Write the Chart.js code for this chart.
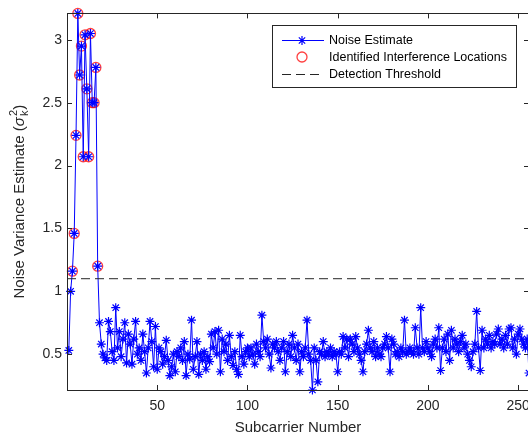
<!DOCTYPE html>
<html>
<head>
<meta charset="utf-8">
<script src="https://cdn.jsdelivr.net/npm/chart.js@4.4.1/dist/chart.umd.min.js"></script>
<style>
  html, body { margin: 0; padding: 0; background: #fff; overflow: hidden; }
  #wrap { position: relative; width: 540px; height: 438px; }
</style>
</head>
<body>
<div id="wrap"><canvas id="c"></canvas></div>
<script>
"use strict";

/*global Chart*/

// noise variance estimate per subcarrier (1..256)
var noiseEstimate = [
    0.53, 1.00, 1.16, 1.46, 2.24, 3.21, 2.72, 2.95, 2.07, 3.04, 2.61, 2.07, 3.05, 2.50, 2.50, 2.78,
    1.20, 0.75, 0.58, 0.50, 0.47, 0.45, 0.76, 0.68, 0.52, 0.45, 0.87, 0.55, 0.68, 0.48, 0.62, 0.75,
    0.43, 0.66, 0.58, 0.42, 0.62, 0.76, 0.50, 0.55, 0.45, 0.66, 0.52, 0.35, 0.55, 0.76, 0.60, 0.40,
    0.72, 0.38, 0.55, 0.52, 0.42, 0.48, 0.61, 0.45, 0.33, 0.40, 0.50, 0.36, 0.52, 0.48, 0.55, 0.45,
    0.60, 0.33, 0.50, 0.46, 0.77, 0.38, 0.48, 0.60, 0.34, 0.50, 0.45, 0.52, 0.38, 0.48, 0.44, 0.66,
    0.55, 0.68, 0.50, 0.69, 0.36, 0.62, 0.52, 0.58, 0.45, 0.65, 0.48, 0.41, 0.52, 0.38, 0.34, 0.65,
    0.48, 0.42, 0.52, 0.55, 0.48, 0.55, 0.50, 0.42, 0.58, 0.52, 0.48, 0.81, 0.60, 0.55, 0.62, 0.50,
    0.39, 0.58, 0.55, 0.60, 0.52, 0.45, 0.55, 0.60, 0.36, 0.52, 0.58, 0.48, 0.65, 0.55, 0.45, 0.58,
    0.36, 0.52, 0.48, 0.55, 0.77, 0.50, 0.45, 0.215, 0.55, 0.45, 0.28, 0.52, 0.50, 0.60, 0.48, 0.52,
    0.50, 0.55, 0.48, 0.52, 0.50, 0.36, 0.52, 0.50, 0.64, 0.55, 0.62, 0.48, 0.62, 0.58, 0.52, 0.64,
    0.55, 0.50, 0.45, 0.36, 0.52, 0.58, 0.69, 0.55, 0.52, 0.60, 0.48, 0.55, 0.50, 0.48, 0.55, 0.58,
    0.64, 0.55, 0.36, 0.62, 0.58, 0.50, 0.52, 0.48, 0.55, 0.52, 0.77, 0.50, 0.52, 0.55, 0.52, 0.50,
    0.71, 0.55, 0.50, 0.87, 0.55, 0.52, 0.60, 0.55, 0.52, 0.48, 0.58, 0.62, 0.55, 0.71, 0.37, 0.55,
    0.62, 0.52, 0.66, 0.45, 0.69, 0.55, 0.62, 0.58, 0.52, 0.60, 0.65, 0.55, 0.58, 0.50, 0.45, 0.40,
    0.52, 0.58, 0.84, 0.55, 0.37, 0.69, 0.55, 0.62, 0.58, 0.65, 0.55, 0.60, 0.58, 0.66, 0.70, 0.58,
    0.62, 0.55, 0.65, 0.58, 0.70, 0.71, 0.55, 0.62, 0.50, 0.66, 0.70, 0.62, 0.58, 0.55, 0.62, 0.35
];

// subcarriers flagged as interference (1-based)
var interferenceIdx = [3, 4, 5, 6, 7, 8, 9, 10, 11, 12, 13, 14, 15, 16, 17];

var detectionThreshold = 1.1;

var xRange = [0, 256];
var yRange = [0.215, 3.21];
var xTicks = [50, 100, 150, 200, 250];
var yTicks = [0.5, 1, 1.5, 2, 2.5, 3];

var seriesLabels = ['Noise Estimate', 'Identified Interference Locations', 'Detection Threshold'];

var AXIS = '#262626',
    FONT = '"Liberation Sans", Arial, Helvetica, sans-serif';

var noisePoints = noiseEstimate.map(function (v, i) {
    return {x: i + 1, y: v};
});
var interferencePoints = interferenceIdx.map(function (k) {
    return {x: k, y: noiseEstimate[k - 1]};
});
var thresholdPoints = xRange.map(function (x) {
    return {x: x, y: detectionThreshold};
});

// box + inward ticks, matlab style
var axesBox = {
    id: 'axesBox',
    afterDatasetsDraw: function (chart) {
        var ctx = chart.ctx,
            a = chart.chartArea,
            sx = chart.scales.x,
            sy = chart.scales.y,
            len = 5;
        ctx.save();
        ctx.strokeStyle = AXIS;
        ctx.lineWidth = 1;
        ctx.beginPath();
        xTicks.forEach(function (v) {
            var px = Math.round(sx.getPixelForValue(v)) + 0.5;
            ctx.moveTo(px, a.bottom);
            ctx.lineTo(px, a.bottom - len);
            ctx.moveTo(px, a.top);
            ctx.lineTo(px, a.top + len);
        });
        yTicks.forEach(function (v) {
            var py = Math.round(sy.getPixelForValue(v)) + 0.5;
            ctx.moveTo(a.left, py);
            ctx.lineTo(a.left + len, py);
            ctx.moveTo(a.right, py);
            ctx.lineTo(a.right - len, py);
        });
        ctx.stroke();
        ctx.strokeRect(Math.round(a.left) + 0.5, Math.round(a.top) + 0.5,
            Math.round(a.right - a.left), Math.round(a.bottom - a.top));
        ctx.restore();
    },
    afterDraw: function (chart) {
        var ctx = chart.ctx,
            a = chart.chartArea;
        // y axis title with sigma_k^2
        ctx.save();
        ctx.fillStyle = AXIS;
        ctx.textBaseline = 'middle';
        ctx.translate(20, (a.top + a.bottom) / 2);
        ctx.rotate(-Math.PI / 2);
        var main = 'Noise Variance Estimate (',
            fBig = '15px ' + FONT,
            fSmall = '11px ' + FONT;
        ctx.font = fBig;
        var w1 = ctx.measureText(main).width,
            wSig = ctx.measureText('\u03c3').width,
            wClose = ctx.measureText(')').width;
        ctx.font = fSmall;
        var wSup = Math.max(ctx.measureText('2').width, ctx.measureText('k').width) + 1;
        var x0 = -(w1 + wSig + wSup + wClose) / 2;
        ctx.font = fBig;
        ctx.textAlign = 'left';
        ctx.fillText(main, x0, 0);
        ctx.font = 'italic 15px ' + FONT;
        ctx.fillText('\u03c3', x0 + w1, 0);
        ctx.font = fSmall;
        ctx.fillText('2', x0 + w1 + wSig + 1, -6);
        ctx.fillText('k', x0 + w1 + wSig + 1, 5);
        ctx.font = fBig;
        ctx.fillText(')', x0 + w1 + wSig + wSup, 0);
        ctx.restore();

        // legend
        var lx = 272, ly = 25, lw = 244, lh = 62,
            rows = [40, 57, 74],
            sx0 = 282, sx1 = 324, mx = 302, tx = 329;
        ctx.save();
        ctx.fillStyle = '#fff';
        ctx.fillRect(lx, ly, lw, lh);
        ctx.strokeStyle = AXIS;
        ctx.lineWidth = 1;
        ctx.strokeRect(lx + 0.5, ly + 0.5, lw, lh);

        ctx.strokeStyle = '#0000ff';
        ctx.beginPath();
        ctx.moveTo(sx0, rows[0] + 0.5);
        ctx.lineTo(sx1, rows[0] + 0.5);
        ctx.stroke();
        ctx.lineWidth = 1.2;
        Chart.helpers.drawPoint(ctx, {pointStyle: 'star', radius: 4.5, borderWidth: 1.2, rotation: 0},
            mx, rows[0] + 0.5);

        ctx.strokeStyle = 'rgba(255,0,0,0.75)';
        ctx.lineWidth = 1.3;
        ctx.beginPath();
        ctx.arc(mx, rows[1], 5, 0, Math.PI * 2);
        ctx.stroke();

        ctx.strokeStyle = AXIS;
        ctx.lineWidth = 1;
        ctx.setLineDash([9, 5]);
        ctx.beginPath();
        ctx.moveTo(sx0, rows[2] + 0.5);
        ctx.lineTo(sx1, rows[2] + 0.5);
        ctx.stroke();
        ctx.setLineDash([]);

        ctx.fillStyle = '#000';
        ctx.font = '12.5px ' + FONT;
        ctx.textBaseline = 'middle';
        ctx.textAlign = 'left';
        seriesLabels.forEach(function (t, i) {
            ctx.fillText(t, tx, rows[i] + 1);
        });
        ctx.restore();
    }
};

new Chart(document.getElementById('c'), {
    type: 'line',
    data: {
        datasets: [{
            label: seriesLabels[1],
            data: interferencePoints,
            showLine: false,
            pointStyle: 'circle',
            pointRadius: 5,
            pointBorderWidth: 1.3,
            pointBorderColor: 'rgba(255,0,0,0.75)',
            pointBackgroundColor: 'rgba(0,0,0,0)',
            order: 2,
        }, {
            label: seriesLabels[0],
            data: noisePoints,
            borderColor: '#0000ff',
            borderWidth: 1,
            pointStyle: 'star',
            pointRadius: 4.5,
            pointBorderWidth: 1.2,
            pointBorderColor: '#0000ff',
            pointBackgroundColor: '#0000ff',
            order: 1,
        }, {
            label: seriesLabels[2],
            data: thresholdPoints,
            borderColor: AXIS,
            borderWidth: 1,
            borderDash: [9, 5],
            pointRadius: 0,
            order: 0,
        }]
    },
    options: {
        responsive: true,
        maintainAspectRatio: false,
        animation: false,
        clip: false,
        layout: {padding: {left: 0, right: 11, top: 11, bottom: 0}},
        plugins: {legend: {display: false}, tooltip: {enabled: false}},
        elements: {line: {tension: 0}},
        scales: {
            x: {
                type: 'linear',
                min: xRange[0],
                max: xRange[1],
                afterBuildTicks: function (s) {
                    s.ticks = xTicks.map(function (v) { return {value: v}; });
                },
                afterFit: function (s) { s.height = 48; },
                grid: {display: false, drawTicks: false},
                border: {display: false},
                ticks: {
                    font: {family: FONT, size: 14},
                    color: AXIS,
                    padding: 8,
                    maxRotation: 0,
                    callback: function (v) { return String(v); }
                },
                title: {
                    display: true,
                    text: 'Subcarrier Number',
                    font: {family: FONT, size: 15},
                    color: AXIS,
                    padding: {top: 0, bottom: 1}
                }
            },
            y: {
                type: 'linear',
                min: yRange[0],
                max: yRange[1],
                afterBuildTicks: function (s) {
                    s.ticks = yTicks.map(function (v) { return {value: v}; });
                },
                afterFit: function (s) { s.width = 67; },
                grid: {display: false, drawTicks: false},
                border: {display: false},
                ticks: {
                    font: {family: FONT, size: 14},
                    color: AXIS,
                    padding: 5,
                    callback: function (v) { return String(v); }
                }
            }
        }
    },
    plugins: [axesBox]
});
</script>
</body>
</html>
